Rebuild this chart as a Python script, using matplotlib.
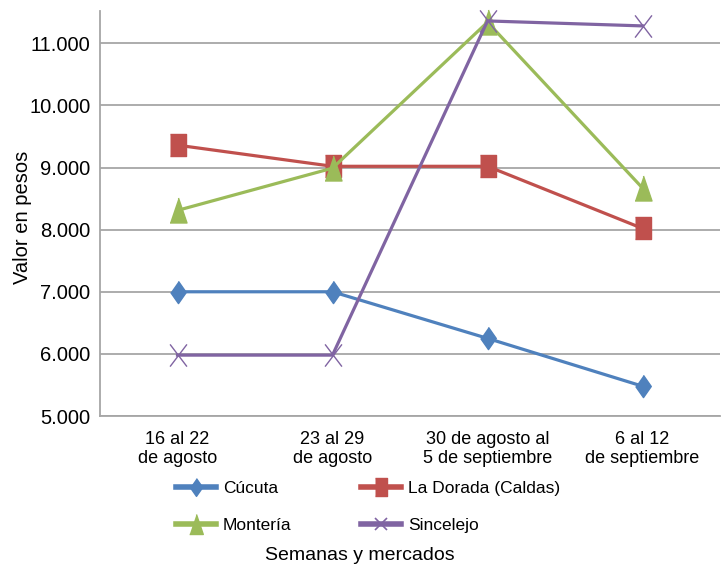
import numpy as np
import matplotlib.pyplot as plt
from matplotlib.ticker import FuncFormatter
from matplotlib.lines import Line2D

semanas = ['16 al 22\nde agosto', '23 al 29\nde agosto',
           '30 de agosto al\n5 de septiembre', '6 al 12\nde septiembre']
cucuta = [7000, 7000, 6250, 5480]
la_dorada = [9360, 9020, 9020, 8020]
monteria = [8310, 8990, 11340, 8670]
sincelejo = [5980, 5980, 11360, 11280]

colores = ['#4F81BD', '#C0504D', '#9BBB59', '#8064A2']
nombres = ['Cúcuta', 'La Dorada (Caldas)', 'Montería', 'Sincelejo']

# marcadores algo mas altos que anchos, como en el original
diamante = [(0, 0.5), (0.35, 0), (0, -0.5), (-0.35, 0)]
cuadrado = [(-0.35, -0.5), (0.35, -0.5), (0.35, 0.5), (-0.35, 0.5)]
triangulo = [(0, 0.5), (0.34, -0.5), (-0.34, -0.5)]
equis = 'equis'

plt.rcParams['font.family'] = ['Liberation Sans', 'DejaVu Sans']

fig = plt.figure(figsize=(7.23, 5.66), dpi=100)
ax = fig.add_axes([100 / 723, 1 - 416 / 566, 620 / 723, 405 / 566])

x = np.arange(len(semanas))
series = [cucuta, la_dorada, monteria, sincelejo]
marcas = [(diamante, 16), (cuadrado, 16), (triangulo, 18), (equis, 16)]
for datos, color, nombre, (m, ms) in zip(series, colores, nombres, marcas):
    if m is equis:
        ax.plot(x, datos, color=color, lw=2.3, clip_on=False, zorder=3)
        ax.plot(x, datos, ls='none', marker=[(-0.38, -0.5), (0.38, 0.5)],
                ms=ms, mec=color, mew=1.0, clip_on=False, zorder=4)
        ax.plot(x, datos, ls='none', marker=[(-0.38, 0.5), (0.38, -0.5)],
                ms=ms, mec=color, mew=1.0, clip_on=False, zorder=4)
    else:
        ax.plot(x, datos, color=color, lw=2.3, marker=m, ms=ms,
                mfc=color, mec=color, clip_on=False, zorder=3)

ax.set_xlim(-0.5, 3.5)
ax.set_ylim(5000, 11520)
ax.set_yticks(range(5000, 11001, 1000))
ax.yaxis.set_major_formatter(FuncFormatter(lambda v, p: f'{int(v):,}'.replace(',', '.')))
ax.set_xticks(x)
ax.set_xticklabels(semanas, fontsize=13, linespacing=1.1)
ax.tick_params(axis='y', labelsize=14.5, length=0, pad=7)
ax.tick_params(axis='x', length=0, pad=11)
ax.grid(axis='y', color='#A6A6A6', lw=1.3)
ax.set_axisbelow(True)
for s in ['top', 'right']:
    ax.spines[s].set_visible(False)
for s in ['left', 'bottom']:
    ax.spines[s].set_color('#A6A6A6')
    ax.spines[s].set_linewidth(1.3)

ax.set_ylabel('Valor en pesos', fontsize=14.5)
ax.yaxis.set_label_coords((32 - 100) / 620, 0.49)

# leyenda: se llena por columnas, asi que el orden va cruzado
h = {}
for color, nombre, (m, ms) in zip(colores, nombres, marcas):
    if m is equis:
        h[nombre] = Line2D([], [], color=color, lw=4, marker='x', ms=9, mew=1.2)
    else:
        h[nombre] = Line2D([], [], color=color, lw=4, marker=m, ms=ms * 0.8)
orden = ['Cúcuta', 'Montería', 'La Dorada (Caldas)', 'Sincelejo']
fig.legend([h[n] for n in orden], orden, loc='upper left',
           bbox_to_anchor=(176 / 723, 1 - 481 / 566),
           ncol=2, frameon=False, borderpad=0, borderaxespad=0, fontsize=12.5,
           handlelength=2.3, handletextpad=0.4, columnspacing=4.0, labelspacing=1.25)

fig.text(360 / 723, 1 - 555 / 566, 'Semanas y mercados', ha='center', va='center',
         fontsize=14)

fig.savefig('out.png', dpi=100)
